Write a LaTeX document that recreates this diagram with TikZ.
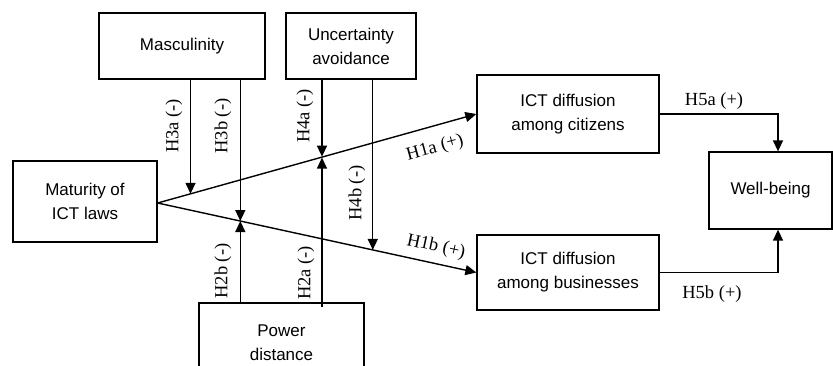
\documentclass[tikz,border=0pt]{standalone}
\usepackage{fontspec}
\setmainfont{Liberation Serif}
\newfontfamily\boxfont{Liberation Sans}
\usetikzlibrary{arrows.meta,calc}
\begin{document}
\begin{tikzpicture}[x=1pt,y=-1pt,
  box/.style={draw,line width=1.3pt,inner sep=0pt,align=center,
    font=\boxfont\fontsize{17}{24}\selectfont},
  conn/.style={line width=1.4pt},
  arr/.style={conn,-{Triangle[length=11pt,width=10pt]}},
  lab/.style={font=\fontsize{18.5}{20}\selectfont,inner sep=0pt}]
\useasboundingbox (0,0) rectangle (833,365);
\node[box,minimum width=144pt,minimum height=81pt] (mat) at (85,201.5) {Maturity of\\ICT laws};
\node[box,minimum width=166pt,minimum height=66pt] (mas) at (182,46) {Masculinity};
\node[box,minimum width=130pt,minimum height=66pt] (unc) at (351,46) {Uncertainty\\avoidance};
\node[box,minimum width=182pt,minimum height=78pt] (cit) at (568,114) {ICT diffusion\\among citizens};
\node[box,minimum width=182pt,minimum height=75pt] (bus) at (568,272.5) {ICT diffusion\\among businesses};
\node[box,minimum width=123pt,minimum height=77pt] (wel) at (770.5,190.5) {Well-being};
\node[box,minimum width=165pt,minimum height=80pt] (pow) at (281.5,343) {Power\\distance};
% main paths
\coordinate (src) at ($(mat.east)+(0,1.5)$);
\draw[arr] (src) -- (cit.west);
\draw[arr] (src) -- (bus.west);
% intersection points
\coordinate (h3a) at ($(src)!{33/320}!(cit.west)$);
\coordinate (h4a) at ($(src)!{165/320}!(cit.west)$);
\coordinate (h3b) at ($(src)!{83/320}!(bus.west)$);
\coordinate (h4b) at ($(src)!{216/320}!(bus.west)$);
% moderators
\draw[arr] (mas.south -| h3a) -- (h3a);
\draw[arr] (mas.south -| h3b) -- (h3b);
\draw[arr] (unc.south -| h4a) -- ($(h4a)+(0,-0.5)$);
\draw[arr] (unc.south -| h4b) -- (h4b);
\draw[arr] (pow.north -| h3b) -- (h3b);
\draw[arr] ($(pow.north -| h4a)+(0,5)$) -- ($(h4a)+(0,0.5)$);
% to well-being
\coordinate (ta) at (778,0);
\draw[arr] (cit.east) -| (wel.north -| ta);
\draw[arr] (bus.east) -| (wel.south -| ta);
% labels
\node[lab,rotate=90] (l3a) at (174,126) {H3a (-)};
\node[lab,rotate=90] (l3b) at (223,126) {H3b (-)};
\node[lab,rotate=90] (l4a) at (305,116) {H4a (-)};
\node[lab,rotate=90] (l4b) at (357,193) {H4b (-)};
\node[lab,rotate=90] (l2b) at (223,271) {H2b (-)};
\node[lab,rotate=90] (l2a) at (306,273) {H2a (-)};
\node[lab,rotate=15.4] (l1a) at (435,148) {H1a (+)};
\node[lab,rotate=-12.2] (l1b) at (436,247) {H1b (+)};
\node[lab] (l5a) at (714,101) {H5a (+)};
\node[lab] (l5b) at (712,294) {H5b (+)};
\end{tikzpicture}
\end{document}
